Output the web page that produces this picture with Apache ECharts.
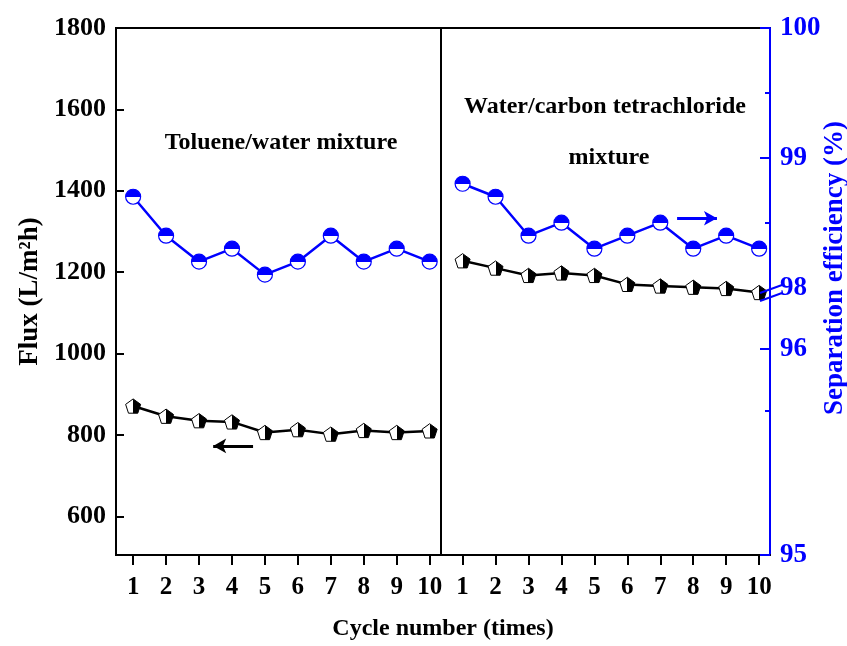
<!DOCTYPE html>
<html>
<head>
<meta charset="utf-8">
<script src="https://cdn.jsdelivr.net/npm/echarts@6/dist/echarts.min.js"></script>
<style>html,body{margin:0;padding:0;background:#fff;}#chart{width:847px;height:646px;}</style>
</head>
<body>
<div id="chart"></div>
<script>
// ---- data ----
const cycles = [1, 2, 3, 4, 5, 6, 7, 8, 9, 10];
const fluxToluene = [871, 846, 835, 832, 806, 813, 802, 811, 806, 810];
const fluxCCl4 = [1228, 1210, 1192, 1198, 1192, 1170, 1166, 1163, 1160, 1150];
const effToluene = [98.7, 98.4, 98.2, 98.3, 98.1, 98.2, 98.4, 98.2, 98.3, 98.2];
const effCCl4 = [98.8, 98.7, 98.4, 98.5, 98.3, 98.4, 98.5, 98.3, 98.4, 98.3];
const fluxTicks = [600, 800, 1000, 1200, 1400, 1600, 1800];
const effTickValues = [95.94, 97.53, 98, 99, 100];
const effTickLabels = ['95', '96', '98', '99', '100'];
const effMinorTicks = [97.05, 98.5, 99.5];
const panelLabels = ['Toluene/water mixture', 'Water/carbon tetrachloride', 'mixture'];

const FONT = 'Liberation Serif';
const BLUE = '#0000ff';
const xPos = (c, panel) => c + panel * 10;
const ticksX = cycles.map(c => xPos(c, 0)).concat(cycles.map(c => xPos(c, 1)));

const circleFill = {type: 'linear', x: 0, y: 0, x2: 0, y2: 1, colorStops: [
  {offset: 0, color: BLUE}, {offset: 0.5, color: BLUE}, {offset: 0.5, color: '#ffffff'}, {offset: 1, color: '#ffffff'}]};
const pentFill = {type: 'linear', x: 0, y: 0, x2: 1, y2: 0, colorStops: [
  {offset: 0, color: '#ffffff'}, {offset: 0.5, color: '#ffffff'}, {offset: 0.5, color: '#000'}, {offset: 1, color: '#000'}]};
const pentagon = 'path://M0,0 L9.51,6.91 L5.88,18.09 L-5.88,18.09 L-9.51,6.91 Z';

function fluxSeries(vals, panel, extra) {
  return Object.assign({
    type: 'line', xAxisIndex: 0, yAxisIndex: 0,
    data: vals.map((v, i) => [xPos(cycles[i], panel), v]),
    symbol: pentagon, symbolKeepAspect: true, symbolSize: 15,
    itemStyle: {color: pentFill, borderColor: '#000', borderWidth: 1},
    lineStyle: {color: '#000', width: 2.5}, z: 3
  }, extra || {});
}
function effSeries(vals, panel, extra) {
  return Object.assign({
    type: 'line', xAxisIndex: 0, yAxisIndex: 1,
    data: vals.map((v, i) => [xPos(cycles[i], panel), v]),
    symbol: 'circle', symbolSize: 15,
    itemStyle: {color: circleFill, borderColor: BLUE, borderWidth: 1.2},
    lineStyle: {color: BLUE, width: 2.5}, z: 4
  }, extra || {});
}

const chart = echarts.init(document.getElementById('chart'));
const boldText = (size, color) => ({fontFamily: FONT, fontWeight: 'bold', fontSize: size, color: color || '#000'});

chart.setOption({
  animation: false,
  grid: {left: 116, right: 77, top: 28, bottom: 86, show: true, borderColor: '#000', borderWidth: 2, backgroundColor: 'transparent'},
  xAxis: [{
    type: 'value', min: 0.48, max: 20.33,
    name: 'Cycle number (times)', nameLocation: 'middle', nameGap: 62,
    nameTextStyle: boldText(24),
    axisLine: {show: true, lineStyle: {color: '#000', width: 2}},
    axisTick: {show: true, inside: false, length: 10, customValues: ticksX, lineStyle: {color: '#000', width: 2}},
    axisLabel: {show: true, margin: 20, customValues: ticksX, formatter: v => String(((Math.round(v) - 1) % 10) + 1), ...boldText(25)},
    splitLine: {show: false}
  }],
  yAxis: [{
    type: 'value', min: 505, max: 1800, position: 'left',
    name: 'Flux (L/m²h)', nameLocation: 'middle', nameGap: 72, nameRotate: 90,
    nameTextStyle: boldText(27),
    axisLine: {show: true, lineStyle: {color: '#000', width: 2}},
    axisTick: {show: true, inside: true, length: 8, customValues: fluxTicks, lineStyle: {color: '#000', width: 2}},
    axisLabel: {show: true, margin: 10, customValues: fluxTicks, formatter: v => String(v), ...boldText(26)},
    splitLine: {show: false}
  }, {
    type: 'value', min: 95.94, max: 100, position: 'right',
    axisLine: {show: true, lineStyle: {color: BLUE, width: 2}},
    axisTick: {show: true, inside: true, length: 10, customValues: effTickValues.filter(v => v !== 98), lineStyle: {color: BLUE, width: 2}},
    axisLabel: {show: true, margin: 10, customValues: effTickValues,
      formatter: v => { const i = effTickValues.findIndex(t => Math.abs(t - v) < 1e-6); return i >= 0 ? effTickLabels[i] : ''; },
      ...boldText(27, BLUE)},
    splitLine: {show: false}
  }, {
    type: 'value', min: 95.94, max: 100, position: 'right',
    axisLine: {show: false},
    axisTick: {show: true, inside: true, length: 5, customValues: effMinorTicks, lineStyle: {color: BLUE, width: 2}},
    axisLabel: {show: false},
    splitLine: {show: false}
  }],
  series: [
    fluxSeries(fluxToluene, 0, {
      markLine: {silent: true, symbol: ['none', 'none'], label: {show: false},
        lineStyle: {color: '#000', width: 2, type: 'solid'},
        data: [{xAxis: 10.35}]}
    }),
    fluxSeries(fluxCCl4, 1),
    effSeries(effToluene, 0),
    effSeries(effCCl4, 1),
    // arrows
    {type: 'line', xAxisIndex: 0, yAxisIndex: 0, data: [], markLine: {
      silent: true, symbol: ['none', 'arrow'], symbolSize: [11, 13], label: {show: false},
      lineStyle: {color: '#000', width: 3, type: 'solid'},
      data: [[{coord: [4.64, 773]}, {coord: [3.43, 773]}]]}},
    {type: 'line', xAxisIndex: 0, yAxisIndex: 1, data: [], markLine: {
      silent: true, symbol: ['none', 'arrow'], symbolSize: [11, 13], label: {show: false},
      lineStyle: {color: BLUE, width: 3, type: 'solid'},
      data: [[{coord: [17.51, 98.534]}, {coord: [18.72, 98.534]}]]}}
  ],
  graphic: [
    {type: 'text', x: 281, y: 143, style: {text: panelLabels[0], font: 'bold 24px "Liberation Serif"', fill: '#000', textAlign: 'center', textVerticalAlign: 'middle'}},
    {type: 'text', x: 605, y: 107, style: {text: panelLabels[1], font: 'bold 24px "Liberation Serif"', fill: '#000', textAlign: 'center', textVerticalAlign: 'middle'}},
    {type: 'text', x: 609, y: 158, style: {text: panelLabels[2], font: 'bold 24px "Liberation Serif"', fill: '#000', textAlign: 'center', textVerticalAlign: 'middle'}},
    {type: 'text', x: 835, y: 268, rotation: Math.PI / 2, style: {text: 'Separation efficiency (%)', font: 'bold 27px "Liberation Serif"', fill: BLUE, textAlign: 'center', textVerticalAlign: 'middle'}},
    {type: 'line', shape: {x1: 760, y1: 293, x2: 782, y2: 285}, style: {stroke: BLUE, lineWidth: 2}, z: 100},
    {type: 'line', shape: {x1: 760, y1: 301, x2: 782, y2: 293}, style: {stroke: BLUE, lineWidth: 2}, z: 100}
  ]
});
</script>
</body>
</html>
